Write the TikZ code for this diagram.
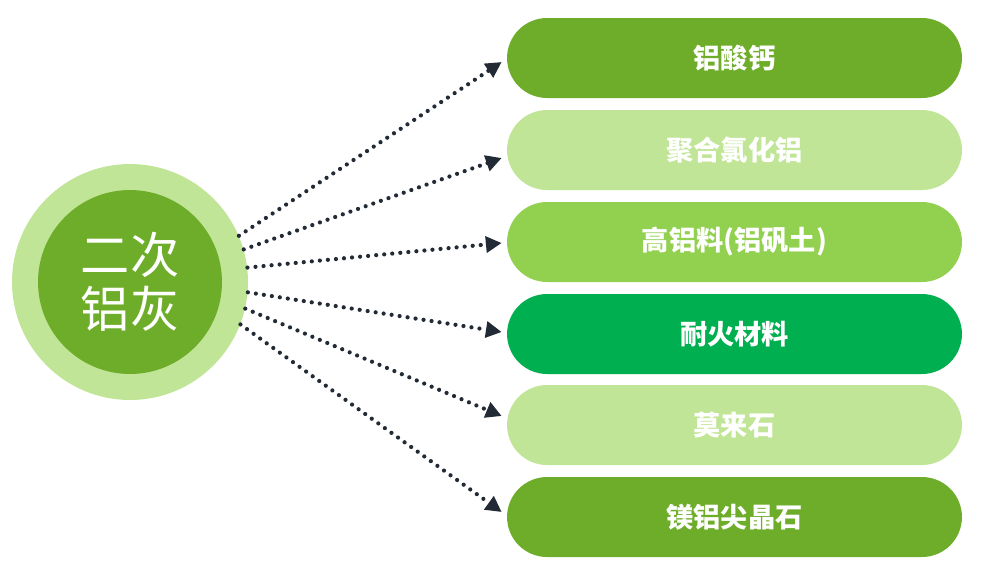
\documentclass[tikz,border=0pt]{standalone}
\usepackage{fontspec}
\setmainfont{Noto Sans CJK SC}
\usetikzlibrary{arrows.meta}
\definecolor{leafgreen}{HTML}{6EAD2A}
\definecolor{palegreen}{HTML}{C0E596}
\definecolor{limegreen}{HTML}{92D050}
\definecolor{deepgreen}{HTML}{00B050}
\definecolor{inkblue}{HTML}{222A35}
\begin{document}
\begin{tikzpicture}[x=0.02cm,y=-0.02cm,
  pill/.style={rounded corners=0.8cm,minimum width=9.1cm,minimum height=1.6cm,
    inner sep=0pt,text=white,font=\bfseries\fontsize{15.5}{18}\selectfont},
  flow/.style={inkblue,line width=2.4pt,dash pattern=on 0pt off 4.6pt,line cap=round,
    -{Triangle[length=9pt,width=9pt]}}]
\useasboundingbox (0,0) rectangle (1000,576);
\node[circle,fill=palegreen,minimum size=4.72cm,inner sep=0pt] (ring) at (130,282) {};
\node[circle,fill=leafgreen,minimum size=3.68cm,inner sep=0pt] (core) at (ring) {};
\node[text=white,align=center,font=\fontsize{28}{31}\selectfont] (title) at (core) {二次\\铝灰};
\foreach \i/\y/\c/\t in {1/58/leafgreen/铝酸钙,2/150/palegreen/聚合氯化铝,
  3/242/limegreen/高铝料(铝矾土),4/334/deepgreen/耐火材料,
  5/425/palegreen/莫来石,6/517/leafgreen/镁铝尖晶石}
  \node[pill,fill=\c] (p\i) at (734.5,\y) {\t};
\foreach \a/\n/\d in {23.8/1/-0.08,16.2/2/-0.16,7.1/3/-0.02,
  -5.2/4/0.04,-13.8/5/0.18,-21.3/6/0.1}
  \draw[flow] (ring.\a) -- ([xshift=-0.1cm,yshift=\d cm]p\n.west);
\end{tikzpicture}
\end{document}
